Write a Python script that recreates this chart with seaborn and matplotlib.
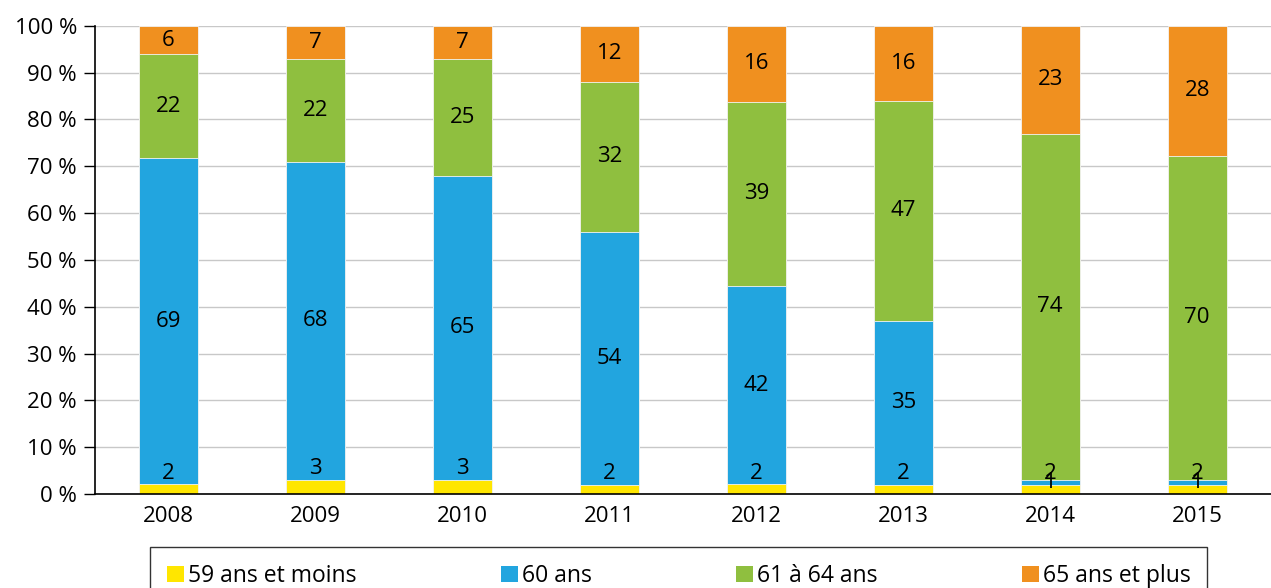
import matplotlib
matplotlib.use("Agg")
import matplotlib.pyplot as plt
import numpy as np
import pandas as pd
import seaborn as sns
from matplotlib.patches import Patch

sns.set_theme(style="white")
plt.rcParams["font.family"] = ["Open Sans", "DejaVu Sans"]
plt.rcParams["text.color"] = "black"
plt.rcParams["xtick.color"] = "black"
plt.rcParams["ytick.color"] = "black"

years = ["2008", "2009", "2010", "2011", "2012", "2013", "2014", "2015"]
age_59 = [2, 3, 3, 2, 2, 2, 2, 2]
age_60 = [69, 68, 65, 54, 42, 35, 1, 1]
age_61_64 = [22, 22, 25, 32, 39, 47, 74, 70]
age_65 = [6, 7, 7, 12, 16, 16, 23, 28]
series_names = ["59 ans et moins", "60 ans", "61 à 64 ans", "65 ans et plus"]
colors = ["#FFE600", "#22A5DF", "#8FBF3F", "#F0901F"]

FS = 16

raw = np.array([age_59, age_60, age_61_64, age_65], dtype=float)
share = raw / raw.sum(axis=0) * 100
cum = np.cumsum(share, axis=0)

fig = plt.figure(figsize=(12.71, 5.88), dpi=100)
ax = fig.add_axes([0.0747, 0.160, 0.925, 0.796])

# overlapping bars of cumulative totals, top series first
for i in range(3, -1, -1):
    df = pd.DataFrame({"year": years, "value": cum[i]})
    sns.barplot(data=df, x="year", y="value", color=colors[i], width=0.4,
                saturation=1, ax=ax, zorder=2, edgecolor="#F4F4F4", linewidth=0.6)

for j in range(len(years)):
    # yellow label sits just above its segment
    ax.text(j, cum[0][j] + 0.2, f"{int(raw[0][j])}", ha="center", va="bottom",
            fontsize=FS, zorder=3)
    for i in range(1, 4):
        mid = cum[i][j] - share[i][j] / 2
        ax.text(j, mid, f"{int(raw[i][j])}", ha="center", va="center",
                fontsize=FS, zorder=3)

ax.set_xlim(-0.5, 7.5)
ax.set_ylim(0, 100)
ax.set_yticks(np.arange(0, 101, 10))
ax.set_yticklabels([f"{v} %" for v in range(0, 101, 10)], fontsize=FS)
ax.yaxis.grid(True, color="#C8C8C8", linewidth=1)
ax.set_axisbelow(True)
ax.set_xticks(range(len(years)))
ax.set_xticklabels(years, fontsize=FS)
ax.set_xticks(np.arange(-0.5, 8, 1), minor=True)
ax.tick_params(axis="x", which="major", length=0, pad=9)
ax.tick_params(axis="x", which="minor", length=10, width=1, color="black", direction="out")
ax.tick_params(axis="y", length=8, width=1, color="black", direction="out", left=True, pad=5)
ax.set_xlabel("")
ax.set_ylabel("")
for side in ["top", "right"]:
    ax.spines[side].set_visible(False)
for side in ["left", "bottom"]:
    ax.spines[side].set_color("black")
    ax.spines[side].set_linewidth(1.2)

handles = [Patch(facecolor=c, edgecolor="none") for c in colors]
leg = fig.legend(handles, series_names, loc="upper left",
                 bbox_to_anchor=(0.118, -0.2, 0.832, 0.27), mode="expand",
                 ncol=4, frameon=True, fancybox=False, fontsize=FS + 0.5,
                 handlelength=0.75, handleheight=0.75, handletextpad=0.15,
                 borderpad=0.75, borderaxespad=0)
leg.get_frame().set_edgecolor("black")
leg.get_frame().set_linewidth(1)

fig.savefig("out.png", dpi=100)
